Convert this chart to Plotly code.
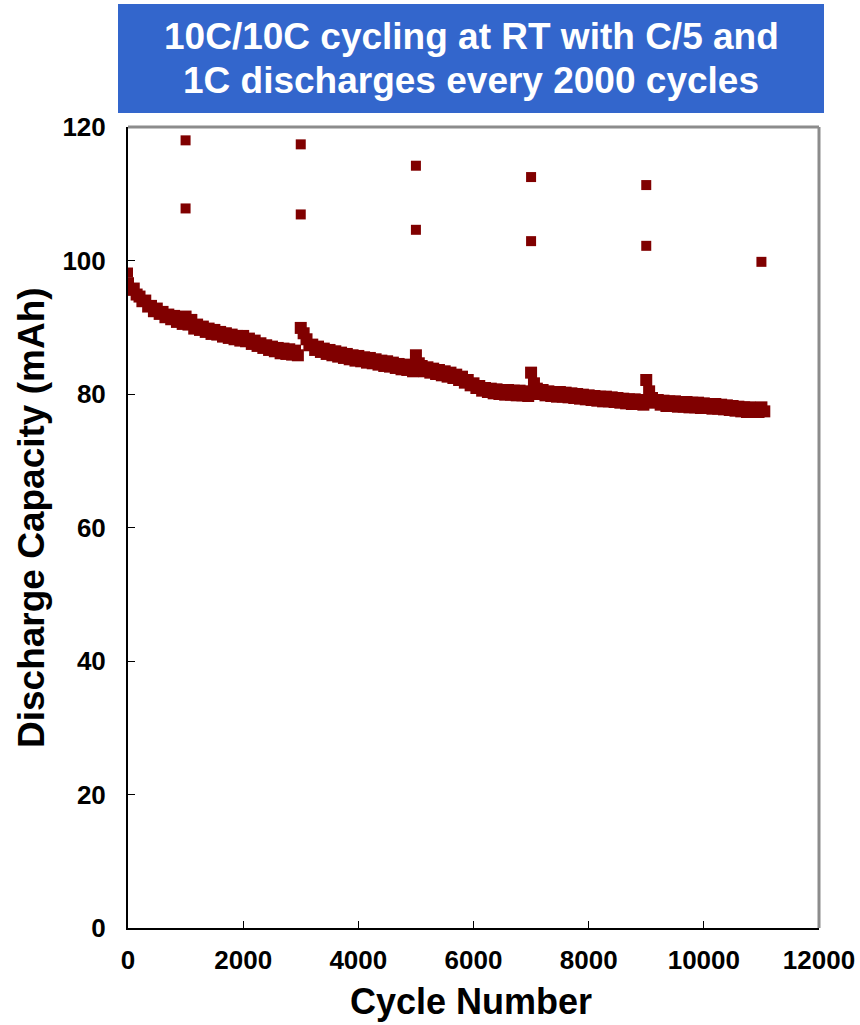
import plotly.graph_objects as go

# Regular 10C/10C cycling: one reading every 50 cycles
cycle_step = 50
capacity_10c = [
    # 0 - 950
    96.6, 95.6, 95.8, 94.9, 94.6, 93.9, 94.0, 93.1, 93.2, 92.4,
    92.8, 92.0, 92.3, 91.5, 91.9, 91.2, 91.7, 90.8, 91.3, 90.5,
    # 1000 - 1950
    91.6, 90.4, 91.1, 89.8, 90.4, 89.6, 90.1, 89.3, 89.8, 89.0,
    89.6, 88.9, 89.3, 88.6, 89.1, 88.4, 88.9, 88.2, 88.7, 88.0,
    # 2000 - 2950
    88.7, 87.9, 88.3, 87.5, 88.0, 87.2, 87.6, 86.9, 87.3, 86.6,
    87.1, 86.4, 86.9, 86.1, 86.8, 86.0, 86.7, 85.9, 86.5, 85.8,
    # 3000 - 3950
    89.9, 89.1, 88.2, 87.3, 87.4, 86.6, 87.1, 86.3, 86.8, 86.0,
    86.6, 85.8, 86.4, 85.6, 86.2, 85.4, 86.0, 85.2, 85.8, 85.0,
    # 4000 - 4950
    85.7, 84.9, 85.5, 84.7, 85.4, 84.6, 85.2, 84.4, 85.0, 84.2,
    84.9, 84.1, 84.7, 83.9, 84.5, 83.7, 84.4, 83.6, 84.2, 83.4,
    # 5000 - 5950
    85.8, 84.6, 84.2, 83.4, 84.0, 83.2, 83.8, 83.0, 83.6, 82.8,
    83.4, 82.6, 83.2, 82.4, 82.9, 82.1, 82.6, 81.7, 82.1, 81.3,
    # 6000 - 6950
    81.6, 80.9, 81.2, 80.5, 80.9, 80.3, 80.8, 80.1, 80.7, 80.0,
    80.6, 79.9, 80.6, 79.9, 80.5, 79.8, 80.5, 79.8, 80.4, 79.7,
    # 7000 - 7950
    83.2, 81.6, 80.8, 80.0, 80.6, 79.8, 80.4, 79.7, 80.3, 79.6,
    80.3, 79.6, 80.2, 79.5, 80.1, 79.4, 80.0, 79.3, 79.9, 79.2,
    # 8000 - 8950
    79.8, 79.1, 79.7, 79.0, 79.6, 78.9, 79.6, 78.9, 79.5, 78.8,
    79.4, 78.7, 79.3, 78.6, 79.2, 78.5, 79.2, 78.5, 79.1, 78.4,
    # 9000 - 9950
    82.1, 80.4, 79.4, 78.7, 79.1, 78.4, 79.0, 78.2, 78.9, 78.2,
    78.9, 78.1, 78.8, 78.1, 78.8, 78.0, 78.7, 78.0, 78.7, 77.9,
    # 10000 - 10950
    78.6, 77.9, 78.5, 77.8, 78.5, 77.8, 78.4, 77.7, 78.3, 77.6,
    78.2, 77.5, 78.1, 77.4, 78.0, 77.3, 78.0, 77.3, 77.9, 77.3,
    # 11000 - 11050
    78.0, 77.4,
]
cycles_10c = [i * cycle_step for i in range(len(capacity_10c))]

# Slow-rate check-ups (C/5 and 1C discharges)
checkup_cycles = [0, 1000, 1000, 3000, 3000, 5000, 5000, 7000, 7000, 9000, 9000, 11000]
checkup_capacity = [98.2, 118.0, 107.8, 117.4, 106.9, 114.2, 104.6, 112.5, 102.9, 111.3, 102.2, 99.8]

x_ticks = [0, 2000, 4000, 6000, 8000, 10000, 12000]
x_tick_text = ["0", "2000", "4000", "6000", "8000", "10000", "12000"]
y_ticks = [0, 20, 40, 60, 80, 100, 120]
y_tick_text = ["0", "20", "40", "60", "80", "100", "120"]

MAROON = "#800000"
FONT = "Liberation Sans, Arial, sans-serif"

fig = go.Figure()
fig.add_trace(go.Scatter(
    x=cycles_10c, y=capacity_10c, mode="markers",
    marker=dict(symbol="square", size=12, color=MAROON, line=dict(width=0)),
    showlegend=False,
))
fig.add_trace(go.Scatter(
    x=checkup_cycles, y=checkup_capacity, mode="markers",
    marker=dict(symbol="square", size=10, color=MAROON, line=dict(width=0)),
    showlegend=False,
))

axis_common = dict(
    showgrid=False, zeroline=False, showline=True, linecolor="#000000", linewidth=2,
    ticks="inside", ticklen=7, tickwidth=1, tickcolor="#000000", automargin=False,
    tickfont=dict(family=FONT, size=26, color="#000000", weight="bold"),
)
fig.update_xaxes(range=[0, 12000], tickvals=x_ticks, ticktext=x_tick_text,
                 ticklabelstandoff=8, **axis_common)
fig.update_yaxes(range=[0, 120], tickvals=y_ticks, ticktext=y_tick_text,
                 ticklabelstandoff=15, **axis_common)

L, R, T, B = 128, 41, 127, 97
W, H = 860, 1025
pw, ph = W - L - R, H - T - B

def px_x(p):
    return (p - L) / pw

def px_y(p):
    return (H - B - p) / ph

shapes = [
    # gray frame on top and right
    dict(type="line", xref="paper", yref="paper", x0=0, x1=1, y0=1, y1=1,
         line=dict(color="#8c8c8c", width=3)),
    dict(type="line", xref="paper", yref="paper", x0=1, x1=1, y0=0, y1=1,
         line=dict(color="#8c8c8c", width=3)),
    # title banner
    dict(type="rect", xref="paper", yref="paper", layer="below",
         x0=px_x(118), x1=px_x(824), y0=px_y(113), y1=px_y(4),
         fillcolor="#3366CC", line=dict(width=0)),
]

title_font = dict(family=FONT, size=37, color="#ffffff", weight="bold")
label_font = dict(family=FONT, size=36, color="#000000", weight="bold")

annotations = [
    dict(text="10C/10C cycling at RT with C/5 and",
         xref="paper", yref="paper", x=px_x(471), y=px_y(37),
         xanchor="center", yanchor="middle", showarrow=False, font=title_font),
    dict(text="1C discharges every 2000 cycles",
         xref="paper", yref="paper", x=px_x(471), y=px_y(80),
         xanchor="center", yanchor="middle", showarrow=False, font=title_font),
    dict(text="Cycle Number", xref="paper", yref="paper",
         x=px_x(471), y=px_y(1001), xanchor="center", yanchor="middle", showarrow=False,
         font=label_font),
    dict(text="Discharge Capacity (mAh)", xref="paper", yref="paper",
         x=px_x(31), y=px_y(518), xanchor="center", yanchor="middle", showarrow=False,
         textangle=-90, font=dict(label_font, size=37)),
]

fig.update_layout(
    width=W, height=H,
    margin=dict(l=L, r=R, t=T, b=B, pad=0, autoexpand=False),
    paper_bgcolor="#ffffff", plot_bgcolor="#ffffff",
    shapes=shapes, annotations=annotations,
)

fig.write_html("out.html")
